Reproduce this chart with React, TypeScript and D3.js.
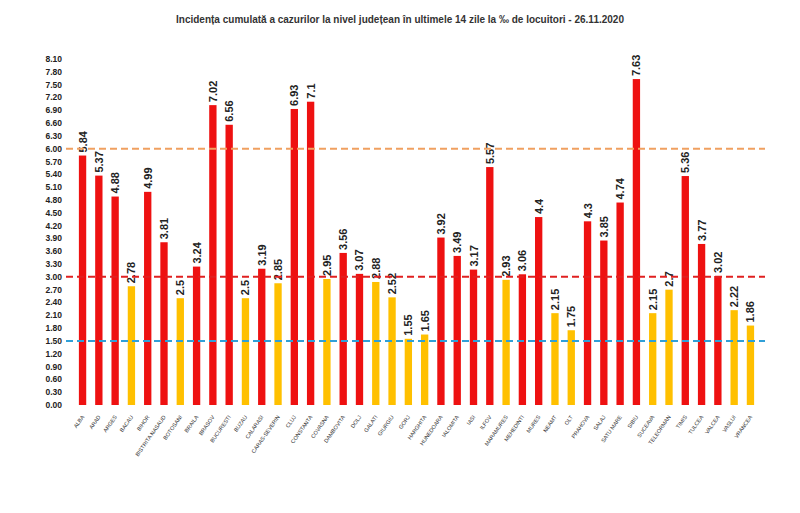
import React from 'react'
import * as d3 from 'd3'

const counties = ['ALBA','ARAD','ARGES','BACAU','BIHOR','BISTRITA NASAUD','BOTOSANI','BRAILA','BRASOV','BUCURESTI','BUZAU','CALARASI','CARAS-SEVERIN','CLUJ','CONSTANTA','COVASNA','DAMBOVITA','DOLJ','GALATI','GIURGIU','GORJ','HARGHITA','HUNEDOARA','IALOMITA','IASI','ILFOV','MARAMURES','MEHEDINTI','MURES','NEAMT','OLT','PRAHOVA','SALAJ','SATU MARE','SIBIU','SUCEAVA','TELEORMAN','TIMIS','TULCEA','VALCEA','VASLUI','VRANCEA']
const values = [5.84,5.37,4.88,2.78,4.99,3.81,2.5,3.24,7.02,6.56,2.5,3.19,2.85,6.93,7.1,2.95,3.56,3.07,2.88,2.52,1.55,1.65,3.92,3.49,3.17,5.57,2.93,3.06,4.4,2.15,1.75,4.3,3.85,4.74,7.63,2.15,2.7,5.36,3.77,3.02,2.22,1.86]
const thresholds = [
  { v: 6, color: '#f0a060' },
  { v: 3, color: '#e02020' },
  { v: 1.5, color: '#30a0d8' },
]
const yTicks = d3.range(0, 28).map((i) => +(i * 0.3).toFixed(2))
const title = 'Incidența cumulată a cazurilor la nivel județean în ultimele 14 zile la ‰ de locuitori - 26.11.2020'

export default function App() {
  const width = 800, height = 513
  const x = d3.scaleBand().domain(counties).range([74, 759]).paddingInner(0.55).paddingOuter(0.3)
  const y = d3.scaleLinear().domain([0, 8.1]).range([405, 59])
  const font = 'Liberation Sans, Arial, sans-serif'
  return (
    <svg width={width} height={height} style={{ position: 'absolute', left: 0, top: 0, background: '#fff' }} fontFamily={font}>
      <text x={400} y={23} textAnchor="middle" fontSize={10} fontWeight="bold" fill="#333">{title}</text>
      {yTicks.map((t) => (
        <text key={t} x={62} y={y(t) + 3} textAnchor="end" fontSize={8.5} fontWeight="bold" fill="#222">{t.toFixed(2)}</text>
      ))}
      {values.map((v, i) => {
        const c = counties[i]
        const cx = x(c)! + x.bandwidth() / 2
        return (
          <g key={c}>
            <rect x={x(c)} y={y(v)} width={x.bandwidth()} height={y(0) - y(v)} fill={v >= 3 ? '#ee1111' : '#ffc000'} />
            <text transform={`translate(${cx + 4},${y(v) - 3}) rotate(-90)`} fontSize={11} fontWeight="bold" fill="#222">{String(v)}</text>
            <text transform={`translate(${cx + 2},${y(0) + 12}) rotate(-55)`} textAnchor="end" fontSize={5.5} fill="#333">{c}</text>
          </g>
        )
      })}
      {thresholds.map((t) => (
        <line key={t.v} x1={66} x2={765} y1={y(t.v)} y2={y(t.v)} stroke={t.color} strokeWidth={2} strokeDasharray="7,4" />
      ))}
    </svg>
  )
}
